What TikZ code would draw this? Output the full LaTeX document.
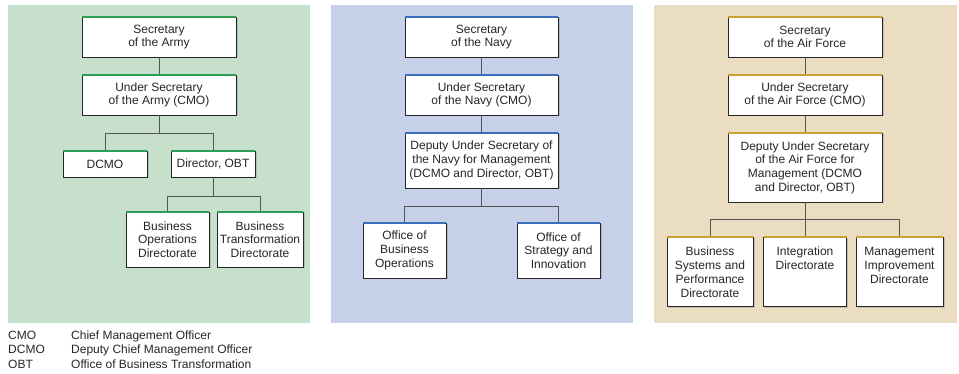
\documentclass[tikz,border=0pt]{standalone}
\usepackage{fontspec}
\setmainfont{Liberation Sans}
\usetikzlibrary{shadows,backgrounds,positioning}
\definecolor{armybg}{RGB}{199,224,203}
\definecolor{navybg}{RGB}{198,208,232}
\definecolor{afbg}{RGB}{234,221,193}
\definecolor{armyline}{RGB}{46,158,86}
\definecolor{navyline}{RGB}{58,110,186}
\definecolor{afline}{RGB}{201,160,52}
\definecolor{linkgray}{RGB}{85,85,85}
\tikzset{
	office/.style={draw=black!85,line width=.9pt,outer sep=0pt,fill=white,align=center,inner sep=2.5pt,text=black!85,font=\fontsize{12}{13.7}\selectfont,drop shadow={shadow xshift=1.5pt,shadow yshift=-1.5pt,opacity=.35}},
	wide/.style={office,minimum width=154pt,minimum height=40pt},
	small/.style={office,minimum width=84pt,minimum height=26pt},
	unit/.style={office,minimum width=83pt,minimum height=55pt},
	afunit/.style={office,text width=78pt,text height=16.5pt,text depth=47.5pt},
	link/.style={draw=linkgray,line width=.8pt},
	topline/.style={line width=2pt}
}

\begin{document}
\begin{tikzpicture}[x=1pt,y=-1pt]
\useasboundingbox (0,0) rectangle (959,374);
\fill[armybg] (8,5) rectangle (310,323);
\fill[navybg] (331,5) rectangle (633,323);
\fill[afbg] (654,5) rectangle (957,323);

%%%% Army
\node[wide] (as) at (159,37) {Secretary\\of the Army};
\node[wide] (aus) at (159,95) {Under Secretary\\of the Army (CMO)};
\node[small] (dcmo) at (105,164) {DCMO};
\node[small] (dobt) at (213,164) {Director, OBT};
\node[unit] (bod) at (167.5,239.5) {Business\\Operations\\Directorate};
\node[unit,minimum width=86pt] (btd) at (260,239.5) {Business\\Transformation\\Directorate};
\draw[link] (as) -- (aus);
\draw[link] (aus.south) -- ++(0,18) -| (dcmo.north);
\draw[link] (aus.south) -- ++(0,18) -| (dobt.north);
\draw[link] (dobt.south) -- ++(0,19) -| (bod.north);
\draw[link] (dobt.south) -- ++(0,19) -| (btd.north);
\foreach \n in {as,aus,dcmo,dobt,bod,btd}
	\draw[topline,armyline] (\n.north west) -- (\n.north east);

%%%% Navy
\node[wide,minimum width=153pt] (ns) at (481.5,37) {Secretary\\of the Navy};
\node[wide,minimum width=153pt] (nus) at (481.5,95) {Under Secretary\\of the Navy (CMO)};
\node[wide,minimum width=153pt,minimum height=55pt] (ndus) at (481.5,160.5) {Deputy Under Secretary of\\the Navy for Management\\(DCMO and Director, OBT)};
\node[unit] (nobo) at (404.5,250.5) {Office of\\Business\\Operations};
\node[unit] (nosi) at (558.5,250.5) {Office of\\Strategy and\\Innovation};
\draw[link] (ns) -- (nus) -- (ndus);
\draw[link] (ndus.south) -- ++(0,18) -| (nobo.north);
\draw[link] (ndus.south) -- ++(0,18) -| (nosi.north);
\foreach \n in {ns,nus,ndus,nobo,nosi}
	\draw[topline,navyline] (\n.north west) -- (\n.north east);

%%%% Air Force
\node[wide] (fs) at (805,37) {Secretary\\of the Air Force};
\node[wide] (fus) at (805,95) {Under Secretary\\of the Air Force (CMO)};
\node[wide,minimum height=69pt] (fdus) at (805,167.5) {Deputy Under Secretary\\of the Air Force for\\Management (DCMO\\and Director, OBT)};
\node[afunit,minimum width=86pt] (fbsp) at (710,271.5) {Business\\Systems and\\Performance\\Directorate};
\node[afunit,minimum width=82pt] (fid) at (805,271.5) {Integration\\Directorate};
\node[afunit,minimum width=87pt] (fmid) at (899.5,271.5) {Management\\Improvement\\Directorate};
\draw[link] (fs) -- (fus) -- (fdus);
\draw[link] (fdus.south) -- ++(0,17) -| (fbsp.north);
\draw[link] (fdus.south) -- (fid.north);
\draw[link] (fdus.south) -- ++(0,17) -| (fmid.north);
\foreach \n in {fs,fus,fdus,fbsp,fid,fmid}
	\draw[topline,afline] (\n.north west) -- (\n.north east);

%%%% legend
\node[anchor=north west,inner sep=0pt,text=black!85,font=\fontsize{12}{14.5}\selectfont] (legend) at (8,329) {%
\begin{tabular}{@{}p{63pt}@{}l@{}}
CMO & Chief Management Officer\\
DCMO & Deputy Chief Management Officer\\
OBT & Office of Business Transformation
\end{tabular}};
\end{tikzpicture}
\end{document}
